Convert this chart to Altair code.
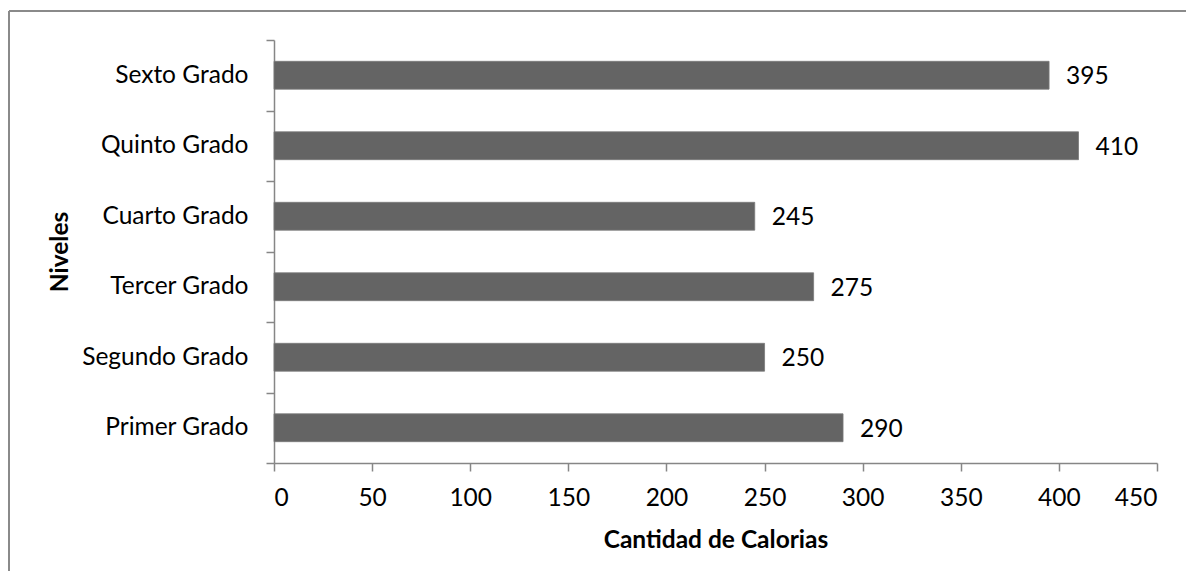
import altair as alt
import pandas as pd

niveles = ["Sexto Grado", "Quinto Grado", "Cuarto Grado", "Tercer Grado", "Segundo Grado", "Primer Grado"]
calorias = [395, 410, 245, 275, 250, 290]
x_ticks = [0, 50, 100, 150, 200, 250, 300, 350, 400, 450]

df = pd.DataFrame({"Nivel": niveles, "Calorias": calorias})

FONT = "Lato"
AX = "#868686"
FS = 24.5

y_enc = alt.Y("Nivel:N", sort=niveles,
              scale=alt.Scale(paddingInner=0, paddingOuter=0),
              axis=alt.Axis(title="Niveles", tickBand="extent", domainColor=AX, tickColor=AX,
                            tickSize=8, labelPadding=18, labelFontSize=FS, labelColor="#000000",
                            labelFont=FONT, titleFont=FONT, titleFontSize=FS, titleFontWeight="bold",
                            titleColor="#000000", titleX=-207, titleY=211.5, titleBaseline="alphabetic",
                            titleAlign="center", titleAngle=270, domainWidth=1.5, tickWidth=1.5))
x_enc = alt.X("Calorias:Q",
              scale=alt.Scale(domain=[0, 450], nice=False),
              axis=alt.Axis(title="Cantidad de Calorias", values=x_ticks, grid=False, domainColor=AX,
                            tickColor=AX, tickSize=8, labelPadding=15, labelFontSize=FS,
                            labelColor="#000000", labelFont=FONT, titleFont=FONT, titleFontSize=FS,
                            titleFontWeight="bold", titleColor="#000000", titleY=84, titleX=441.5,
                            titleBaseline="alphabetic", domainWidth=1.5, tickWidth=1.5))

bars = alt.Chart(df).mark_bar(color="#646464", stroke="#7a7a7a", strokeWidth=0.8,
                              height=alt.RelativeBandSize(0.395)).encode(x=x_enc, y=y_enc)
labels = alt.Chart(df).mark_text(align="left", baseline="middle", dx=17, dy=2, fontSize=FS,
                                 font=FONT, color="#000000").encode(
    x="Calorias:Q", y=alt.Y("Nivel:N", sort=niveles), text="Calorias:Q")

frame_left = alt.Chart(df).mark_rule(color="#8a8a8a", strokeWidth=1.5).encode(
    x=alt.value(-265), y=alt.value(-29), y2=alt.value(560))
frame_top = alt.Chart(df).mark_rule(color="#8a8a8a", strokeWidth=1.5).encode(
    x=alt.value(-265), x2=alt.value(930), y=alt.value(-29))

chart = alt.layer(bars, labels, frame_left, frame_top).properties(
    width=883, height=423,
    autosize=alt.AutoSizeParams(type="none"),
    padding={"left": 266, "top": 32, "right": 29, "bottom": 108},
    background="#ffffff",
).configure_view(stroke=None, strokeWidth=0)

chart.save("out.html", embed_options={"renderer": "svg", "actions": False})
